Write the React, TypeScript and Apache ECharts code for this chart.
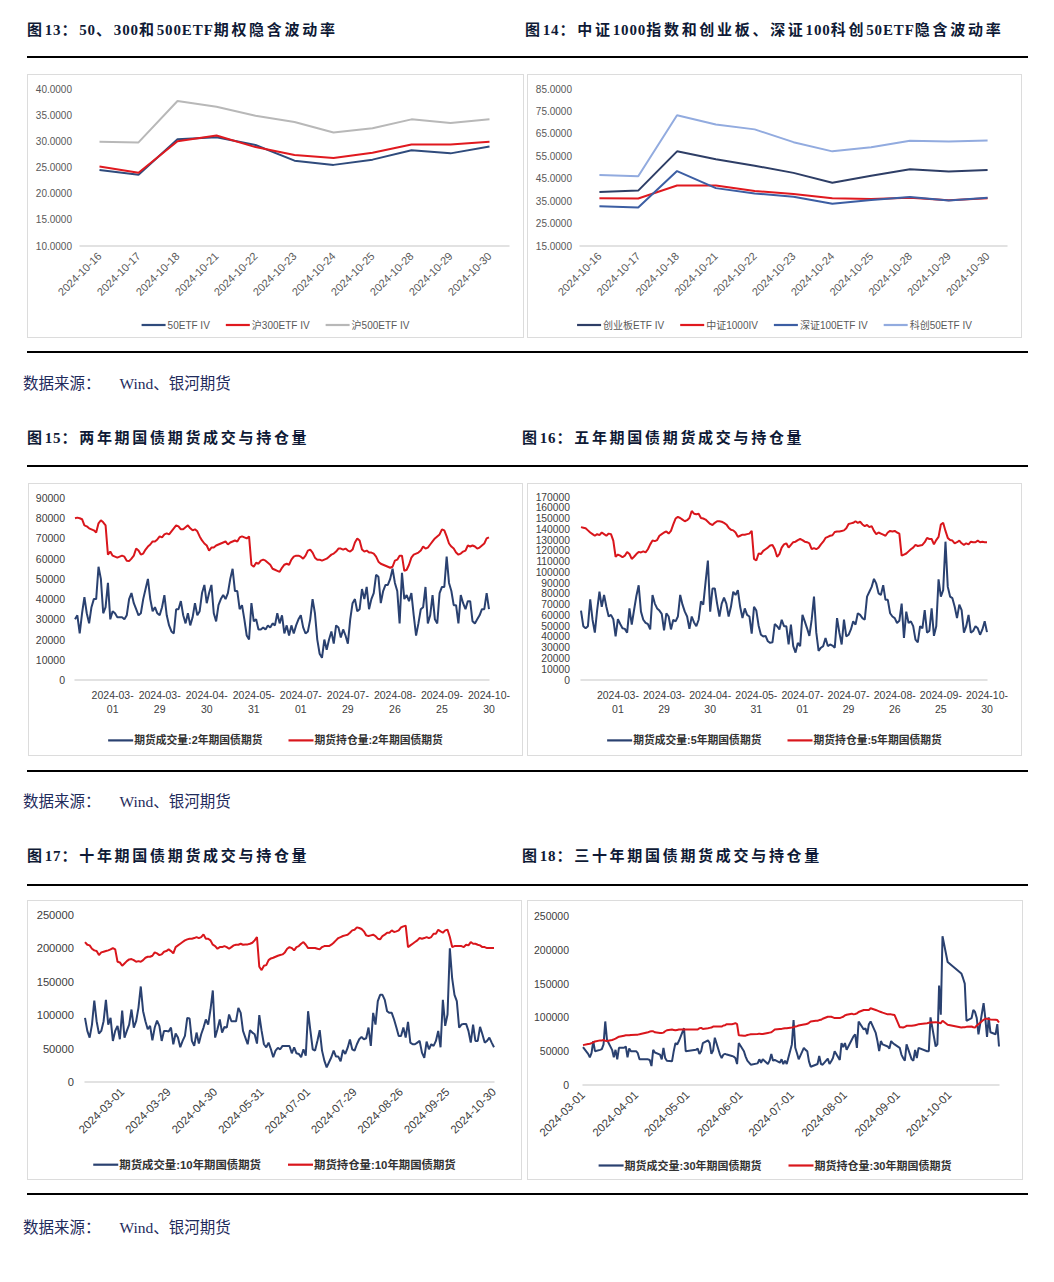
import React, { useEffect, useRef } from "react";
import * as echarts from "echarts";

// ---------------- DATA ----------------
const IV_DATES = ["2024-10-16", "2024-10-17", "2024-10-18", "2024-10-21", "2024-10-22", "2024-10-23", "2024-10-24", "2024-10-25", "2024-10-28", "2024-10-29", "2024-10-30"];

const IV_50ETF = [24.5, 23.6, 30.4, 30.8, 29.3, 26.3, 25.5, 26.5, 28.3, 27.7, 29.0];
const IV_300ETF = [25.2, 24.0, 30.0, 31.1, 28.9, 27.4, 26.8, 27.8, 29.4, 29.4, 29.9];
const IV_500ETF = [29.9, 29.8, 37.7, 36.6, 34.9, 33.7, 31.7, 32.5, 34.2, 33.5, 34.2];

const IV_CYB = [39.1, 39.7, 57.2, 53.7, 50.8, 47.6, 43.2, 46.3, 49.2, 48.2, 48.9];
const IV_ZZ1000 = [36.3, 36.2, 42.0, 42.0, 39.5, 38.2, 36.3, 36.0, 36.5, 35.4, 36.3];
const IV_SZ100 = [32.7, 32.2, 48.4, 40.8, 38.4, 37.0, 33.8, 35.5, 36.9, 35.3, 36.5];
const IV_KC50 = [46.7, 46.1, 73.3, 69.2, 67.0, 61.3, 57.2, 59.0, 61.9, 61.6, 62.0];

// Exchange holidays (weekdays without trading) in the period
const HOLIDAYS = [
  "2024-02-09", "2024-02-12", "2024-02-13", "2024-02-14", "2024-02-15", "2024-02-16",
  "2024-04-04", "2024-04-05", "2024-05-01", "2024-05-02", "2024-05-03", "2024-06-10",
  "2024-09-16", "2024-09-17", "2024-10-01", "2024-10-02", "2024-10-03", "2024-10-04", "2024-10-07",
];

const VOL_2Y = [
  30000, 32000, 23000, 33000, 41000, 33000, 28000, 36000, 40000, 40000,
  56000, 50000, 33000, 36000, 48000, 30000, 34000, 33000, 31000, 31000,
  31000, 30000, 32000, 40000, 43000, 38000, 35000, 32000, 33000, 40000,
  45000, 50000, 40000, 34000, 36000, 33000, 32000, 36000, 42000, 32000,
  27000, 24000, 23000, 35000, 35000, 39000, 32000, 28000, 33000, 27000,
  31000, 38000, 32000, 34000, 43000, 47000, 38000, 43000, 47000, 33000,
  29000, 37000, 40000, 42000, 40000, 43000, 50000, 55000, 44000, 44000,
  35000, 37000, 30000, 22000, 20000, 38000, 29000, 30000, 25000, 25000,
  26000, 25000, 27000, 26000, 28000, 27000, 33000, 28000, 32000, 23000,
  27000, 22000, 27000, 23000, 27000, 30000, 32000, 26000, 23000, 24000,
  30000, 40000, 33000, 20000, 13000, 11000, 20000, 15000, 20000, 24000,
  18000, 27000, 26000, 21000, 25000, 22000, 18000, 30000, 38000, 40000,
  34000, 35000, 45000, 40000, 46000, 35000, 40000, 43000, 52000, 51000,
  38000, 44000, 47000, 47000, 50000, 55000, 48000, 44000, 28000, 53000,
  40000, 42000, 39000, 43000, 32000, 22000, 28000, 35000, 36000, 46000,
  28000, 32000, 42000, 30000, 28000, 43000, 46000, 46000, 61000, 48000,
  44000, 37000, 37000, 28000, 42000, 38000, 35000, 39000, 39000, 29000,
  28000, 30000, 32000, 35000, 35000, 43000, 35000,
];
const OI_2Y = [
  80000, 80300, 80000, 79500, 76500, 76000, 75000, 74500, 74000, 73000,
  77500, 79000, 78000, 76500, 62000, 63500, 61500, 61000, 60500, 61000,
  61500, 61000, 59000, 58800, 60000, 61500, 65000, 64000, 62000, 62500,
  64500, 66000, 67000, 68500, 68500, 69500, 71000, 70500, 72000, 72500,
  72000, 73500, 75000, 76500, 76000, 74500, 74500, 75500, 76500, 75000,
  74000, 74500, 73500, 71000, 69000, 67500, 66500, 64000, 65500, 65500,
  66500, 67000, 67500, 68000, 68500, 67000, 68000, 68500, 69000, 68500,
  70500, 71000, 70500, 70000, 71000, 57000, 56000, 58000, 57500, 59000,
  59500, 59000, 58000, 57000, 55000, 54500, 54000, 53500, 55500, 57000,
  57500, 57000, 59500, 61000, 61500, 61500, 61000, 60000, 61500, 64000,
  64500, 63000, 60500, 59500, 59500, 59000, 59500, 60000, 61000, 62000,
  62500, 63500, 65000, 65000, 64500, 65000, 64000, 63500, 64500, 68000,
  70000, 69000, 64500, 63500, 64000, 63000, 63000, 62500, 61000, 58500,
  57500, 57000, 56500, 56000, 55500, 56000, 59000, 59500, 61500, 61500,
  54000, 54500, 57000, 60500, 62000, 62500, 63000, 64000, 66000, 65000,
  65500, 67000, 68500, 70000, 71000, 72000, 74500, 74000, 71000, 67500,
  66000, 65000, 63000, 62000, 62500, 63500, 64000, 66500, 66000, 66500,
  66000, 65000, 65500, 66500, 67500, 70000, 70500,
];

const VOL_5Y = [
  64500, 50000, 48000, 50000, 75000, 56000, 44000, 65000, 82000, 68000,
  79000, 68000, 59000, 60500, 56500, 40500, 56500, 52000, 48000, 47500,
  44000, 66500, 51500, 65000, 78000, 88000, 63500, 56000, 53000, 52000,
  47000, 79000, 71000, 66500, 64500, 61500, 46000, 62000, 59000, 47000,
  56000, 54500, 59000, 79000, 70000, 63500, 59000, 47500, 59000, 53500,
  50000, 56000, 73000, 70000, 91000, 111000, 63500, 85000, 85000, 71000,
  59000, 71000, 76500, 71000, 59000, 68000, 82000, 79000, 83500, 68000,
  57500, 66500, 60500, 59000, 43000, 68000, 64500, 50500, 42000, 40500,
  41000, 36000, 34500, 35000, 52000, 50000, 47000, 56000, 50000, 50000,
  33000, 51500, 31500, 25500, 34500, 31500, 60500, 54500, 48000, 41000,
  56000, 77500, 44000, 27000, 30000, 31500, 39000, 31500, 33000, 32000,
  30000, 57500, 44000, 33000, 56000, 40500, 42000, 47000, 54500, 51500,
  62000, 60500, 57500, 56000, 77500, 82000, 86500, 94000, 89500, 80500,
  79000, 88000, 74500, 74500, 62000, 59000, 57500, 53000, 55000, 71000,
  39000, 63500, 53000, 54500, 50000, 37500, 35000, 50000, 48000, 65000,
  44000, 45500, 66500, 41000, 50000, 93500, 77500, 83500, 128500, 86500,
  77500, 76000, 68000, 57500, 70000, 65000, 44000, 50000, 60500, 44000,
  45500, 50000, 48000, 42000, 47000, 54500, 44500,
];
const OI_5Y = [
  142000, 141500, 141000, 139000, 137000, 135500, 134000, 135500, 134500, 137000,
  135500, 134000, 136000, 135500, 129500, 114500, 116500, 115500, 114000, 115500,
  119000, 117000, 112500, 114500, 117000, 119000, 118500, 119500, 118500, 121500,
  126000, 129500, 129000, 130000, 134000, 135500, 137000, 138000, 136000, 138500,
  144500, 150000, 151500, 150500, 149000, 147500, 148500, 150500, 157000, 154500,
  154000, 154500, 150500, 150000, 149000, 147000, 145000, 144000, 146000, 147500,
  147500, 147000, 146000, 144500, 141500, 139500, 139000, 137000, 133000, 134000,
  135000, 135000, 135500, 136000, 138500, 112500, 111000, 117500, 117000, 120000,
  121500, 123000, 125000, 125500, 121500, 114500, 117000, 123000, 126000, 127000,
  123000, 125500, 128000, 128500, 130000, 131000, 130000, 128500, 128000, 127000,
  121500, 122500, 121500, 123000, 126000, 128500, 132000, 133000, 134000, 134500,
  137500, 138000, 138000, 138500, 139000, 141000, 145000, 145500, 146000, 147500,
  146000, 147000, 144500, 143000, 144000, 142000, 143000, 138500, 135500, 137000,
  136000, 135000, 134000, 137000, 138500, 138000, 138500, 137000, 136000, 115500,
  116500, 117500, 119500, 121500, 123000, 125500, 124500, 125000, 125500, 128000,
  132000, 131000, 131000, 126000, 130000, 133000, 144500, 146000, 138500, 132000,
  130000, 129500, 127000, 128000, 129500, 127000, 125500, 127000, 126000, 128500,
  128000, 128000, 129500, 128000, 128500, 128000, 128000,
];

const VOL_10Y = [
  96000, 76500, 66500, 86000, 122000, 91000, 72500, 76500, 91000, 123000,
  86000, 96000, 61500, 76500, 84000, 64000, 107000, 66500, 76500, 86000,
  108500, 81500, 91000, 111000, 143000, 106000, 91000, 79000, 84000, 62500,
  81500, 92000, 84000, 61500, 76500, 76500, 75500, 81500, 56500, 72500,
  66500, 52000, 61500, 69000, 96000, 95000, 61500, 54000, 74000, 57500,
  71500, 81500, 93500, 86000, 108500, 137000, 66500, 79000, 93500, 74000,
  82500, 81500, 101000, 91000, 91000, 91000, 111000, 103500, 76500, 66500,
  56500, 77500, 74000, 71500, 57500, 100000, 76500, 56500, 52000, 59000,
  49000, 37000, 47000, 51000, 49000, 54000, 54000, 54000, 54000, 43000,
  52000, 43000, 42000, 37000, 49000, 39500, 106000, 76500, 49000, 47000,
  61500, 77500, 47000, 32000, 22000, 29500, 37000, 47000, 38000, 38000,
  31000, 48000, 42000, 51000, 63500, 49000, 47000, 56500, 64000, 67500,
  64000, 65500, 81500, 54000, 103500, 86000, 121000, 130500, 130500, 123000,
  106000, 103500, 103500, 93500, 81500, 69000, 69000, 81500, 66500, 90000,
  59000, 56500, 56500, 59000, 61500, 44000, 36000, 60500, 49000, 56500,
  54000, 61500, 76500, 52000, 123000, 84000, 101000, 200000, 155000, 130500,
  121000, 81500, 86000, 87000, 87000, 76500, 59000, 86000, 61500, 61500,
  82500, 71500, 59000, 61500, 66500, 59000, 52000,
];
const OI_10Y = [
  209500, 205500, 204500, 199500, 197000, 196000, 190000, 194000, 195000, 196000,
  197000, 198500, 200500, 198500, 180000, 179000, 174000, 177500, 181000, 183500,
  184000, 182500, 180000, 181000, 180000, 182500, 186000, 187500, 187500, 189000,
  194000, 192500, 190000, 191000, 195000, 196000, 198500, 196000, 192500, 202000,
  204500, 207000, 209500, 212000, 213500, 214500, 214500, 215500, 217000, 215500,
  217000, 221000, 214500, 214500, 212000, 205500, 203500, 199500, 202000, 202000,
  203500, 202000, 199500, 202000, 204500, 205500, 205500, 207000, 205500, 206000,
  206000, 207000, 208500, 212000, 217000, 172500, 167500, 174000, 175000, 182500,
  185000, 186000, 187500, 189000, 190000, 191000, 194000, 199500, 202000, 200500,
  197000, 202000, 203500, 207000, 209500, 205500, 200500, 200500, 200500, 200500,
  199500, 198500, 202000, 203500, 203500, 203500, 205500, 208500, 212000, 215500,
  217000, 218500, 219500, 220500, 223500, 227000, 228000, 231500, 230500, 229000,
  225500, 219500, 218500, 219500, 220500, 218500, 214500, 213500, 218500, 220500,
  223500, 223500, 227000, 224500, 225500, 227000, 231500, 233000, 234000, 202000,
  204500, 207000, 209500, 212000, 215500, 214500, 215500, 217000, 215500, 217000,
  222000, 222000, 228000, 225500, 223500, 227000, 228000, 217000, 202000, 203500,
  203500, 203500, 203500, 202000, 205500, 204500, 209500, 207000, 207000, 205500,
  204500, 202000, 202000, 200500, 200500, 200500, 200500,
];

// 30-year: trading days from 2024-03-01 to 2024-10-30
const VOL_30Y = [
  56000, 46000, 41000, 47500, 65000, 50000, 52000, 53000, 60000, 94000, 67000, 52000, 41000, 52000, 38000, 55000, 55000, 57000, 41000, 54000, 50000,
  50000, 47000, 38000, 38000, 37000, 28000, 52000, 48000, 45000, 38000, 55000, 40000, 36000, 35000, 50000, 62000, 60000, 65000, 84000, 50000,
  52000, 54000, 46000, 50000, 62000, 66000, 62000, 46000, 51000, 70000, 45000, 40000, 45000, 46000, 45000, 43000, 42000, 40000, 31000, 62000,
  50000, 42000, 36000, 33000, 30000, 32000, 38000, 33000, 38000, 31000, 36000, 46000, 36000, 37000, 33000, 38000, 31000, 36000, 31000,
  60000, 96000, 55000, 47000, 38000, 55000, 52000, 50000, 35000, 27000, 30000, 31000, 43000, 31000, 30000, 39000, 31000, 35000, 40000, 50000, 37000, 62000, 56000,
  62000, 52000, 67000, 72000, 75000, 55000, 94000, 82000, 84000, 75000, 90000, 94000, 77000, 65000, 50000, 65000, 60000, 57000, 54000, 65000, 62000, 60000,
  55000, 45000, 40000, 36000, 60000, 38000, 36000, 52000, 40000, 55000, 50000, 50000, 100000, 57000, 60000, 147000, 104000, 220000, 182000,
  165000, 158000, 150000, 95000, 99000, 111000, 108000, 99000, 75000, 121000, 99000, 71000, 100000, 78000, 75000, 90000, 57000,
];
const OI_30Y = [
  59000, 60500, 61000, 62000, 63000, 64500, 66000, 66000, 66500, 65500, 65000, 66500, 67500, 68500, 70000, 71500, 73000, 73500, 73500, 73500, 74000,
  74500, 74500, 75000, 78000, 79000, 79500, 79500, 78000, 77000, 77000, 77500, 79500, 81000, 82000, 81500, 81000, 81500, 82000, 82000, 82000,
  82000, 82000, 84000, 84500, 83000, 84000, 84500, 85000, 86500, 86500, 86500, 86500, 88000, 88500, 90000, 90000, 90500, 91500, 90000, 73500,
  73000, 73000, 74000, 74500, 75000, 75500, 76000, 75500, 75500, 77000, 77500, 78000, 80000, 82000, 83000, 83000, 83500, 84000, 84000,
  85000, 85500, 86500, 87000, 88000, 89500, 90000, 90500, 92000, 94000, 95000, 95000, 96000, 96500, 98000, 101000, 101000, 101000, 100000, 99000, 99000, 100000, 101000,
  103000, 104000, 105500, 104500, 105000, 106000, 108000, 111000, 111000, 111000, 111000, 113500, 111000, 110000, 109000, 108000, 107000, 104500, 104500, 104500, 104000, 103500,
  85500, 85500, 85000, 86000, 87500, 87500, 88000, 88500, 89000, 90000, 91500, 92000, 92500, 93000, 92500, 92000, 91500, 95000, 89000,
  85000, 85500, 85500, 86000, 86500, 85500, 85000, 88000, 90000, 96500, 98000, 98000, 97500, 97000, 96500, 96000, 92500,
];

// ---------------- DATES ----------------
function buildDays(start: string, end: string, tradingOnly: boolean): string[] {
  const out: string[] = [];
  const d = new Date(start + "T00:00:00Z");
  const e = new Date(end + "T00:00:00Z");
  while (d.getTime() <= e.getTime()) {
    const wd = d.getUTCDay();
    const s = d.toISOString().slice(0, 10);
    if (!tradingOnly || (wd !== 0 && wd !== 6 && HOLIDAYS.indexOf(s) < 0)) out.push(s);
    d.setUTCDate(d.getUTCDate() + 1);
  }
  return out;
}
const TRADE_DAYS = buildDays("2024-01-31", "2024-10-30", true);
const TRADE_DAYS_30 = TRADE_DAYS.slice(TRADE_DAYS.indexOf("2024-03-01"));
const CAL_DAYS_30 = buildDays("2024-03-01", "2024-10-30", false);

function onCalendar(values: number[]): (number | null)[] {
  const m: Record<string, number> = {};
  TRADE_DAYS_30.forEach((d, i) => (m[d] = values[i]));
  return CAL_DAYS_30.map((d) => (m[d] !== undefined ? m[d] : null));
}

// ---------------- STYLE ----------------
const FONT = '"Liberation Sans", "Noto Sans CJK SC", sans-serif';
const NAVY = "#2a4170";
const RED = "#d9161c";
const AXIS_GRAY = "#d9d9d9";

function ivOption(names: string[], data: number[][], colors: string[], yMin: number, yMax: number, labelStep: number) {
  return {
    animation: false,
    textStyle: { fontFamily: FONT },
    grid: { left: 52, right: 14, top: 14, bottom: 91 },
    legend: {
      top: 240,
      left: "center",
      icon: "rect",
      itemWidth: 24,
      itemHeight: 2.2,
      itemGap: 16,
      data: names,
      textStyle: { fontSize: 10, color: "#595959", fontFamily: FONT, padding: [0, 0, 0, -3] },
    },
    xAxis: {
      type: "category",
      data: IV_DATES,
      boundaryGap: true,
      axisLine: { lineStyle: { color: AXIS_GRAY, width: 1.5 } },
      axisTick: { show: false },
      axisLabel: { rotate: 45, interval: 0, fontSize: 11, color: "#595959", margin: 8, fontFamily: FONT },
    },
    yAxis: {
      type: "value",
      min: yMin,
      max: yMax,
      interval: 5,
      splitLine: { show: false },
      axisLine: { show: false },
      axisTick: { show: false },
      axisLabel: {
        fontSize: 10,
        color: "#595959",
        margin: 8,
        fontFamily: FONT,
        formatter: (v: number) => ((v - yMin) % labelStep === 0 ? v.toFixed(4) : ""),
      },
    },
    series: names.map((n, i) => ({
      name: n,
      type: "line",
      data: data[i],
      symbol: "none",
      lineStyle: { width: 2, color: colors[i] },
      itemStyle: { color: colors[i] },
    })),
  };
}

function bondOption(cfg: {
  names: string[];
  data: any[][];
  cats: string[];
  grid: any;
  yMax: number;
  yInterval: number;
  yLabelSize: number;
  yMargin: number;
  xLabel: any;
  legendTop: number;
  legendSize: number;
  legendGap: number;
}) {
  return {
    animation: false,
    textStyle: { fontFamily: FONT },
    grid: cfg.grid,
    legend: {
      top: cfg.legendTop,
      left: "center",
      icon: "rect",
      itemWidth: 25,
      itemHeight: 2.2,
      itemGap: cfg.legendGap,
      data: cfg.names,
      textStyle: { fontSize: cfg.legendSize, color: "#333333", fontWeight: "bold", fontFamily: FONT, padding: [0, 0, 0, -4] },
    },
    xAxis: {
      type: "category",
      data: cfg.cats,
      boundaryGap: false,
      axisLine: { lineStyle: { color: AXIS_GRAY, width: 1.5 } },
      axisTick: { show: false },
      axisLabel: Object.assign({ color: "#404040", fontFamily: FONT }, cfg.xLabel),
    },
    yAxis: {
      type: "value",
      min: 0,
      max: cfg.yMax,
      interval: cfg.yInterval,
      splitLine: { show: false },
      axisLine: { show: false },
      axisTick: { show: false },
      axisLabel: {
        fontSize: cfg.yLabelSize,
        color: "#404040",
        margin: cfg.yMargin,
        fontFamily: FONT,
        formatter: (v: number) => String(v),
      },
    },
    series: cfg.names.map((n, i) => ({
      name: n,
      type: "line",
      data: cfg.data[i],
      symbol: "none",
      connectNulls: true,
      lineStyle: { width: 2, color: i === 0 ? NAVY : RED },
      itemStyle: { color: i === 0 ? NAVY : RED },
    })),
  };
}

const lastIdx = TRADE_DAYS.length - 1;
const every20 = (idx: number) => (lastIdx - idx) % 20 === 0;
const twoLine = (v: string) => v.slice(0, 8) + "\n" + v.slice(8);

const OPT13 = ivOption(["50ETF IV", "沪300ETF IV", "沪500ETF IV"], [IV_50ETF, IV_300ETF, IV_500ETF], ["#2f4b7c", "#e0191f", "#b8b8b8"], 10, 40, 5);
const OPT14 = ivOption(
  ["创业板ETF IV", "中证1000IV", "深证100ETF IV", "科创50ETF IV"],
  [IV_CYB, IV_ZZ1000, IV_SZ100, IV_KC50],
  ["#2e3e66", "#e0191f", "#3c5ea3", "#92abdf"],
  15,
  85,
  10
);

const OPT15 = bondOption({
  names: ["期货成交量:2年期国债期货", "期货持仓量:2年期国债期货"],
  data: [VOL_2Y, OI_2Y],
  cats: TRADE_DAYS,
  grid: { left: 46, right: 33, top: 14, bottom: 75 },
  yMax: 90000,
  yInterval: 10000,
  yLabelSize: 10.5,
  yMargin: 10,
  xLabel: { interval: every20, formatter: twoLine, fontSize: 10.5, lineHeight: 14, margin: 8 },
  legendTop: 246,
  legendSize: 10.8,
  legendGap: 26,
});
const OPT16 = bondOption({
  names: ["期货成交量:5年期国债期货", "期货持仓量:5年期国债期货"],
  data: [VOL_5Y, OI_5Y],
  cats: TRADE_DAYS,
  grid: { left: 53, right: 34, top: 13, bottom: 75 },
  yMax: 170000,
  yInterval: 10000,
  yLabelSize: 10.3,
  yMargin: 11,
  xLabel: { interval: every20, formatter: twoLine, fontSize: 10.5, lineHeight: 14, margin: 8 },
  legendTop: 246,
  legendSize: 10.8,
  legendGap: 26,
});
const OPT17 = bondOption({
  names: ["期货成交量:10年期国债期货", "期货持仓量:10年期国债期货"],
  data: [VOL_10Y, OI_10Y],
  cats: TRADE_DAYS,
  grid: { left: 57, right: 27, top: 14, bottom: 97 },
  yMax: 250000,
  yInterval: 50000,
  yLabelSize: 11.2,
  yMargin: 11,
  xLabel: { interval: every20, rotate: 45, fontSize: 11.5, margin: 8 },
  legendTop: 253,
  legendSize: 11.4,
  legendGap: 27,
});
const OPT18 = bondOption({
  names: ["期货成交量:30年期国债期货", "期货持仓量:30年期国债期货"],
  data: [onCalendar(VOL_30Y), onCalendar(OI_30Y)],
  cats: CAL_DAYS_30,
  grid: { left: 55, right: 23, top: 15, bottom: 94 },
  yMax: 250000,
  yInterval: 50000,
  yLabelSize: 10.5,
  yMargin: 14,
  xLabel: { interval: (idx: number) => CAL_DAYS_30[idx].slice(8) === "01", rotate: 45, fontSize: 11.5, margin: 8 },
  legendTop: 254,
  legendSize: 11,
  legendGap: 27,
});

// ---------------- COMPONENTS ----------------
function EChart({ option }: { option: any }) {
  const ref = useRef<HTMLDivElement>(null);
  useEffect(() => {
    const chart = echarts.init(ref.current as HTMLDivElement, null, { renderer: "svg" });
    chart.setOption(option);
    return () => chart.dispose();
  }, [option]);
  return <div ref={ref} style={{ width: "100%", height: "100%" }} />;
}

function Box({ left, top, width, height, option }: { left: number; top: number; width: number; height: number; option: any }) {
  return (
    <div
      style={{
        position: "absolute",
        left,
        top,
        width,
        height,
        boxSizing: "border-box",
        border: "1.5px solid #dcdcdc",
        background: "#fff",
      }}
    >
      <EChart option={option} />
    </div>
  );
}

const TITLE_FONT = '"Liberation Serif", "Noto Sans CJK SC", serif';

function Title({ left, top, text }: { left: number; top: number; text: string }) {
  const runs = text.match(/[\x00-\x7F]+|[^\x00-\x7F]+/g) || [];
  return (
    <div
      style={{
        position: "absolute",
        left,
        top,
        fontFamily: TITLE_FONT,
        fontWeight: 700,
        fontSize: 15,
        lineHeight: "20px",
        color: "#0f1a36",
        whiteSpace: "nowrap",
      }}
    >
      {runs.map((r, i) => (
        <span key={i} style={{ letterSpacing: /[\x00-\x7F]/.test(r) ? 0.9 : 2.7 }}>
          {r}
        </span>
      ))}
    </div>
  );
}

function Rule({ top }: { top: number }) {
  return <div style={{ position: "absolute", left: 27, top, width: 1001, height: 2, background: "#000" }} />;
}

function Source({ top }: { top: number }) {
  return (
    <div
      style={{
        position: "absolute",
        left: 23,
        top,
        fontFamily: TITLE_FONT,
        fontSize: 15.5,
        lineHeight: "20px",
        color: "#1f2b5c",
        whiteSpace: "nowrap",
      }}
    >
      <span>数据来源：</span>
      <span style={{ marginLeft: 19 }}>Wind、银河期货</span>
    </div>
  );
}

export default function App() {
  return (
    <div style={{ position: "absolute", left: 0, top: 0, width: 1054, height: 1282, background: "#fff", overflow: "hidden" }}>
      <Title left={27} top={20} text="图13：50、300和500ETF期权隐含波动率" />
      <Title left={525} top={20} text="图14：中证1000指数和创业板、深证100科创50ETF隐含波动率" />
      <Rule top={56} />
      <Box left={27} top={74} width={497} height={264} option={OPT13} />
      <Box left={527} top={74} width={495} height={264} option={OPT14} />
      <Rule top={351} />
      <Source top={374} />

      <Title left={27} top={428} text="图15：两年期国债期货成交与持仓量" />
      <Title left={522} top={428} text="图16：五年期国债期货成交与持仓量" />
      <Rule top={465} />
      <Box left={28} top={483} width={495} height={273} option={OPT15} />
      <Box left={527} top={483} width={495} height={273} option={OPT16} />
      <Rule top={770} />
      <Source top={792} />

      <Title left={27} top={846} text="图17：十年期国债期货成交与持仓量" />
      <Title left={522} top={846} text="图18：三十年期国债期货成交与持仓量" />
      <Rule top={884} />
      <Box left={27} top={900} width={495} height={280} option={OPT17} />
      <Box left={527} top={900} width={496} height={280} option={OPT18} />
      <Rule top={1193} />
      <Source top={1218} />
    </div>
  );
}
